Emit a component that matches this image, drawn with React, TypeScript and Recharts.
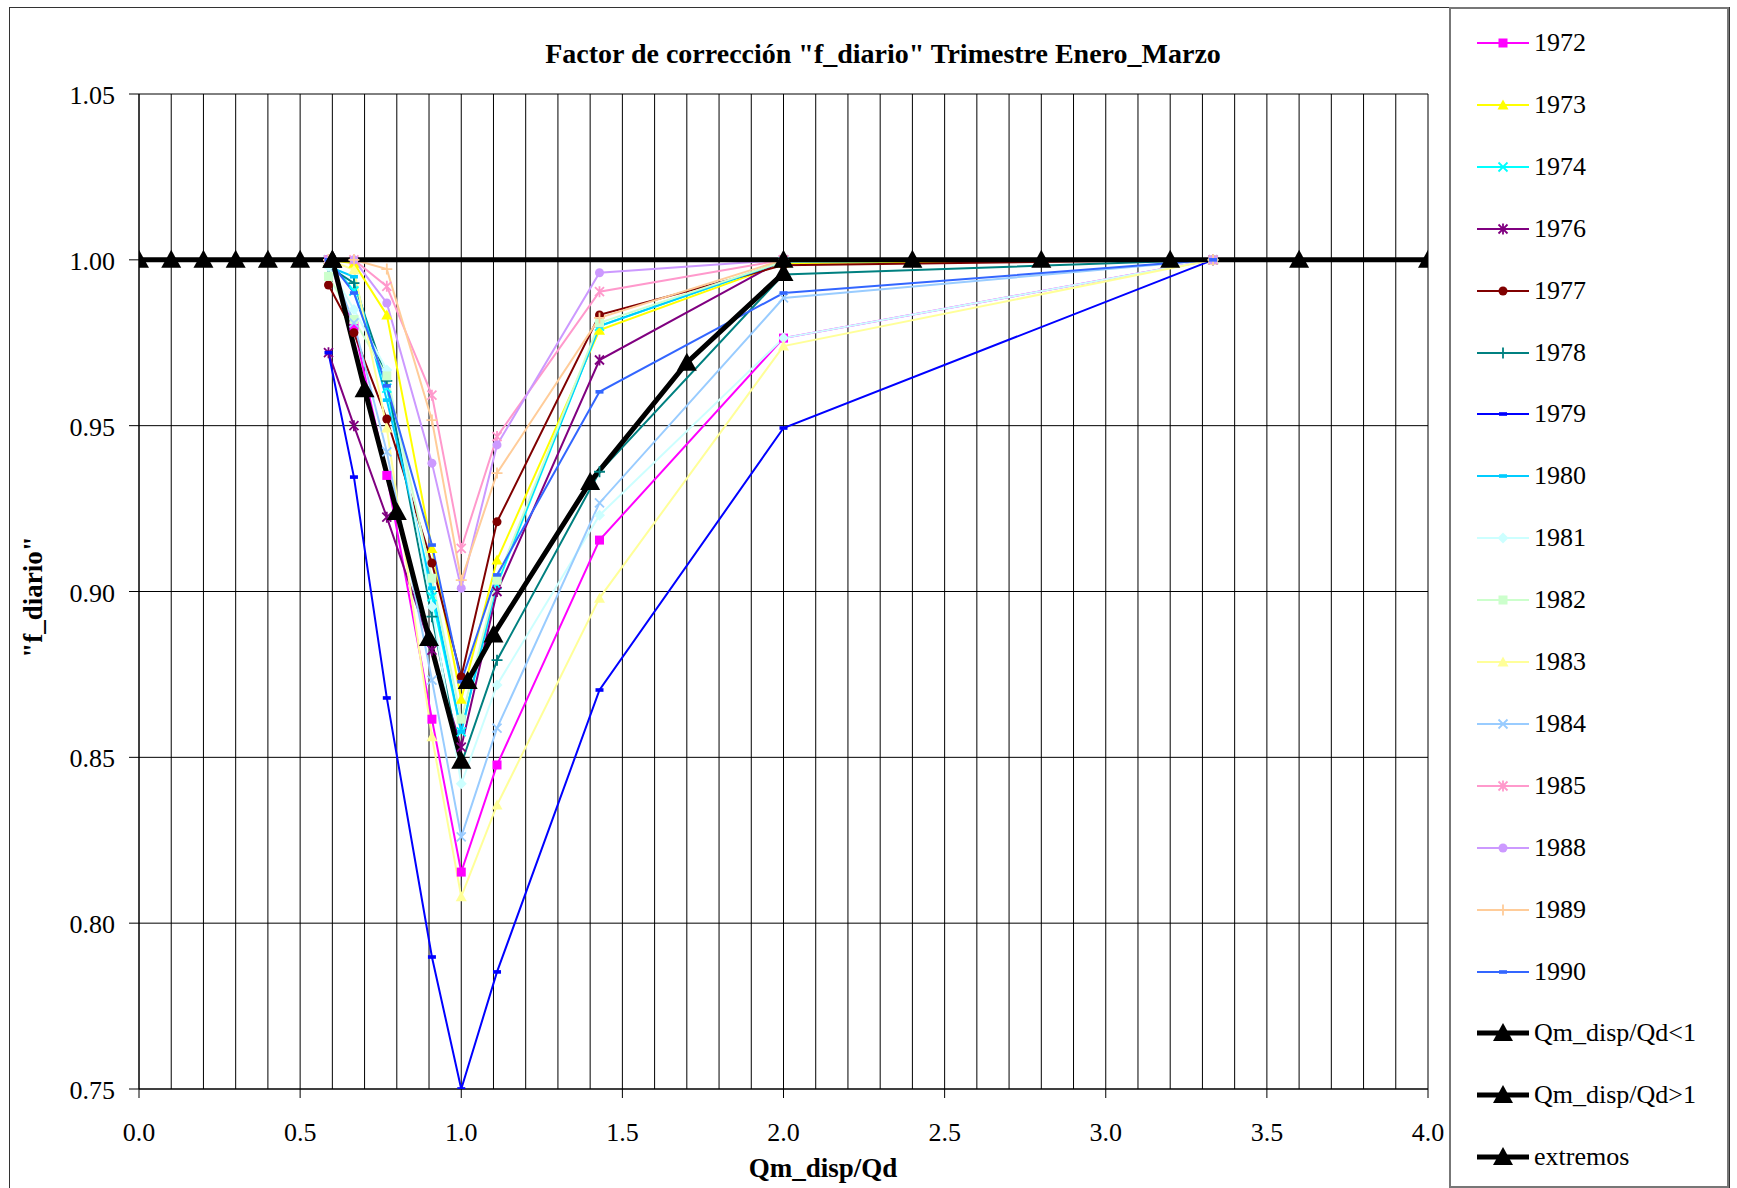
import React from "react";
import { LineChart, Line, XAxis, YAxis, CartesianGrid } from "recharts";

const FONT = '"Liberation Serif", "Times New Roman", serif';

// x positions shared by every year series (Qm_disp/Qd)
const YEAR_X = [0.588, 0.667, 0.769, 0.909, 1.0, 1.111, 1.429, 2.0, 3.333];

const Y1972 = [1.0, 0.98, 0.935, 0.8615, 0.8154, 0.8477, 0.9155, 0.9764, 1.0];
const Y1973 = [1.0, 0.999, 0.9834, 0.913, 0.8675, 0.9095, 0.9788, 0.999, 1.0];
const Y1974 = [1.0, 0.9906, 0.9613, 0.8984, 0.8577, 0.902, 0.98, 0.9995, 1.0];
const Y1976 = [0.972, 0.95, 0.9224, 0.8823, 0.8531, 0.9, 0.9698, 1.0, 1.0];
const Y1977 = [0.9924, 0.978, 0.952, 0.9086, 0.8743, 0.921, 0.9834, 0.9984, 1.0];
const Y1978 = [0.998, 0.993, 0.9635, 0.8924, 0.848, 0.8793, 0.9361, 0.9956, 1.0];
const Y1979 = [0.972, 0.9345, 0.8679, 0.7898, 0.75, 0.7853, 0.8703, 0.9493, 1.0];
const Y1980 = [0.998, 0.9949, 0.9577, 0.901, 0.8577, 0.903, 0.98, 0.9995, 1.0];
const Y1981 = [0.998, 0.985, 0.9668, 0.8954, 0.842, 0.8718, 0.923, 0.9764, 1.0];
const Y1982 = [0.995, 0.982, 0.965, 0.904, 0.8615, 0.9034, 0.981, 0.9995, 1.0];
const Y1983 = [1.0, 0.997, 0.9493, 0.8562, 0.808, 0.8356, 0.898, 0.974, 1.0];
const Y1984 = [1.0, 0.981, 0.9421, 0.8733, 0.826, 0.8588, 0.9267, 0.9885, 1.0];
const Y1985 = [1.0, 1.0, 0.992, 0.9592, 0.913, 0.9467, 0.9904, 1.0, 1.0];
const Y1988 = [1.0, 1.0, 0.987, 0.9387, 0.901, 0.9442, 0.9961, 1.0, 1.0];
const Y1989 = [1.0, 1.0, 0.9972, 0.9517, 0.9034, 0.9357, 0.9825, 1.0, 1.0];
const Y1990 = [1.0, 0.99, 0.962, 0.914, 0.8728, 0.905, 0.9602, 0.99, 1.0];

// envelope series
const LT1_X = [0.6, 0.7, 0.8, 0.9, 1.0];
const LT1_Y = [1.0, 0.961, 0.924, 0.886, 0.849];
const GT1_X = [1.02, 1.1, 1.4, 1.7, 2.0];
const GT1_Y = [0.873, 0.887, 0.933, 0.969, 0.996];
const EXT_X = [0, 0.1, 0.2, 0.3, 0.4, 0.5, 0.6, 2.0, 2.4, 2.8, 3.2, 3.6, 4.0];
const EXT_Y = [1, 1, 1, 1, 1, 1, 1, 1, 1, 1, 1, 1, 1];

const X_TICKS = [
  0, 0.1, 0.2, 0.3, 0.4, 0.5, 0.6, 0.7, 0.8, 0.9, 1.0, 1.1, 1.2, 1.3, 1.4, 1.5, 1.6, 1.7, 1.8, 1.9, 2.0,
  2.1, 2.2, 2.3, 2.4, 2.5, 2.6, 2.7, 2.8, 2.9, 3.0, 3.1, 3.2, 3.3, 3.4, 3.5, 3.6, 3.7, 3.8, 3.9, 4.0,
];
const Y_TICKS = [0.75, 0.8, 0.85, 0.9, 0.95, 1.0, 1.05];

type Shape = "square" | "triangle" | "x" | "star" | "circle" | "plus" | "dash" | "diamond" | "bigTriangle";

interface Series {
  name: string;
  color: string;
  shape: Shape;
  width: number;
  xs: number[];
  ys: number[];
}

const SERIES: Series[] = [
  { name: "1972", color: "#FF00FF", shape: "square", width: 2, xs: YEAR_X, ys: Y1972 },
  { name: "1973", color: "#FFFF00", shape: "triangle", width: 2, xs: YEAR_X, ys: Y1973 },
  { name: "1974", color: "#00FFFF", shape: "x", width: 2, xs: YEAR_X, ys: Y1974 },
  { name: "1976", color: "#800080", shape: "star", width: 2, xs: YEAR_X, ys: Y1976 },
  { name: "1977", color: "#800000", shape: "circle", width: 2, xs: YEAR_X, ys: Y1977 },
  { name: "1978", color: "#008080", shape: "plus", width: 2, xs: YEAR_X, ys: Y1978 },
  { name: "1979", color: "#0000FF", shape: "dash", width: 2, xs: YEAR_X, ys: Y1979 },
  { name: "1980", color: "#00CCFF", shape: "dash", width: 2, xs: YEAR_X, ys: Y1980 },
  { name: "1981", color: "#CCFFFF", shape: "diamond", width: 2, xs: YEAR_X, ys: Y1981 },
  { name: "1982", color: "#CCFFCC", shape: "square", width: 2, xs: YEAR_X, ys: Y1982 },
  { name: "1983", color: "#FFFF99", shape: "triangle", width: 2, xs: YEAR_X, ys: Y1983 },
  { name: "1984", color: "#99CCFF", shape: "x", width: 2, xs: YEAR_X, ys: Y1984 },
  { name: "1985", color: "#FF99CC", shape: "star", width: 2, xs: YEAR_X, ys: Y1985 },
  { name: "1988", color: "#CC99FF", shape: "circle", width: 2, xs: YEAR_X, ys: Y1988 },
  { name: "1989", color: "#FFCC99", shape: "plus", width: 2, xs: YEAR_X, ys: Y1989 },
  { name: "1990", color: "#3366FF", shape: "dash", width: 2, xs: YEAR_X, ys: Y1990 },
  { name: "Qm_disp/Qd<1", color: "#000000", shape: "bigTriangle", width: 5, xs: LT1_X, ys: LT1_Y },
  { name: "Qm_disp/Qd>1", color: "#000000", shape: "bigTriangle", width: 5, xs: GT1_X, ys: GT1_Y },
  { name: "extremos", color: "#000000", shape: "bigTriangle", width: 5, xs: EXT_X, ys: EXT_Y },
];

function Marker({ cx, cy, shape, color }: { cx: number; cy: number; shape: Shape; color: string }) {
  if (cx == null || cy == null || isNaN(cx) || isNaN(cy)) return <g />;
  const s = 4.5;
  switch (shape) {
    case "square":
      return <rect x={cx - s} y={cy - s} width={2 * s} height={2 * s} fill={color} />;
    case "triangle":
      return <polygon points={`${cx},${cy - s - 1} ${cx + s + 1},${cy + s} ${cx - s - 1},${cy + s}`} fill={color} />;
    case "circle":
      return <circle cx={cx} cy={cy} r={s} fill={color} />;
    case "diamond":
      return <polygon points={`${cx},${cy - s - 1} ${cx + s + 1},${cy} ${cx},${cy + s + 1} ${cx - s - 1},${cy}`} fill={color} />;
    case "x":
      return (
        <path d={`M${cx - s},${cy - s}L${cx + s},${cy + s}M${cx - s},${cy + s}L${cx + s},${cy - s}`} stroke={color} strokeWidth={1.8} fill="none" />
      );
    case "star":
      return (
        <path
          d={`M${cx - s},${cy - s}L${cx + s},${cy + s}M${cx - s},${cy + s}L${cx + s},${cy - s}M${cx},${cy - s - 1}L${cx},${cy + s + 1}`}
          stroke={color}
          strokeWidth={1.8}
          fill="none"
        />
      );
    case "plus":
      return <path d={`M${cx - s - 1},${cy}L${cx + s + 1},${cy}M${cx},${cy - s - 1}L${cx},${cy + s + 1}`} stroke={color} strokeWidth={1.8} fill="none" />;
    case "dash":
      return <rect x={cx - 4} y={cy - 1.8} width={8} height={3.6} fill={color} />;
    case "bigTriangle":
      return <polygon points={`${cx},${cy - 10} ${cx + 10},${cy + 8} ${cx - 10},${cy + 8}`} fill={color} />;
  }
  return <g />;
}

const XTick = (props: any) => {
  const { x, y, payload } = props;
  const v = payload.value as number;
  const major = Math.abs(v * 2 - Math.round(v * 2)) < 1e-6;
  if (!major) return <g />;
  return (
    <g>
      <line x1={x} x2={x} y1={y} y2={y + 9} stroke="#000" strokeWidth={1} />
      <text x={x} y={y + 52} textAnchor="middle" fontFamily={FONT} fontSize={26} fill="#000">
        {v.toFixed(1)}
      </text>
    </g>
  );
};

const YTick = (props: any) => {
  const { x, y, payload } = props;
  return (
    <g>
      <line x1={x - 10} x2={x} y1={y} y2={y} stroke="#000" strokeWidth={1} />
      <text x={x - 24} y={y + 10} textAnchor="end" fontFamily={FONT} fontSize={26} fill="#000">
        {(payload.value as number).toFixed(2)}
      </text>
    </g>
  );
};

export default function App() {
  return (
    <div style={{ position: "absolute", left: 0, top: 0, width: 1737, height: 1188, background: "#fff", overflow: "hidden", fontFamily: FONT }}>
      <div style={{ position: "absolute", left: 9, top: 7, width: 1719, height: 1220, border: "1px solid #333" }} />
      <div style={{ position: "absolute", left: 0, top: 0 }}>
        <LineChart width={1470} height={1188} margin={{ top: 94, right: 42, bottom: 39, left: 20 }}>
          <CartesianGrid stroke="#000" strokeWidth={1} />
          <XAxis
            dataKey="x"
            type="number"
            domain={[0, 4]}
            ticks={X_TICKS}
            interval={0}
            height={60}
            tickSize={0}
            tickMargin={0}
            tickLine={false}
            tick={<XTick />}
            stroke="#000"
            allowDataOverflow
          />
          <YAxis
            type="number"
            domain={[0.75, 1.05]}
            ticks={Y_TICKS}
            interval={0}
            width={119}
            tickSize={0}
            tickMargin={0}
            tickLine={false}
            tick={<YTick />}
            stroke="#000"
            allowDataOverflow
          />
          {SERIES.map((s) => (
            <Line
              key={s.name}
              name={s.name}
              data={s.xs.map((x, i) => ({ x, y: s.ys[i] }))}
              dataKey="y"
              stroke={s.color}
              strokeWidth={s.width}
              isAnimationActive={false}
              activeDot={false}
              dot={(p: any) => <Marker key={`${s.name}-${p.index}`} cx={p.cx} cy={p.cy} shape={s.shape} color={s.color} />}
            />
          ))}
        </LineChart>
      </div>
      <div style={{ position: "absolute", left: 883, top: 38, transform: "translateX(-50%)", whiteSpace: "nowrap", fontSize: 28, fontWeight: "bold", lineHeight: "32px" }}>
        Factor de corrección "f_diario" Trimestre Enero_Marzo
      </div>
      <div style={{ position: "absolute", left: 823, top: 1152, transform: "translateX(-50%)", whiteSpace: "nowrap", fontSize: 27, fontWeight: "bold", lineHeight: "32px" }}>
        Qm_disp/Qd
      </div>
      <div
        style={{
          position: "absolute",
          left: 33,
          top: 597,
          transform: "translate(-50%, -50%) rotate(-90deg)",
          whiteSpace: "nowrap",
          fontSize: 27,
          fontWeight: "bold",
          lineHeight: "32px",
        }}
      >
        "f_diario"
      </div>
      <div style={{ position: "absolute", left: 1449, top: 7, width: 276, height: 1177, border: "2px solid #777", background: "#fff" }}>
        {SERIES.map((s, i) => {
          const big = s.shape === "bigTriangle";
          return (
            <div key={s.name} style={{ position: "absolute", left: 0, top: 34 + i * 61.9 - 20, height: 40, width: 276 }}>
              <svg width={70} height={40} style={{ position: "absolute", left: 22, top: 0 }}>
                <line x1={4} x2={56} y1={20} y2={20} stroke={s.color} strokeWidth={big ? 5 : 2} />
                <Marker cx={30} cy={20} shape={s.shape} color={s.color} />
              </svg>
              <div style={{ position: "absolute", left: 83, top: 3, fontSize: 26, lineHeight: "34px", whiteSpace: "nowrap" }}>{s.name}</div>
            </div>
          );
        })}
      </div>
    </div>
  );
}
